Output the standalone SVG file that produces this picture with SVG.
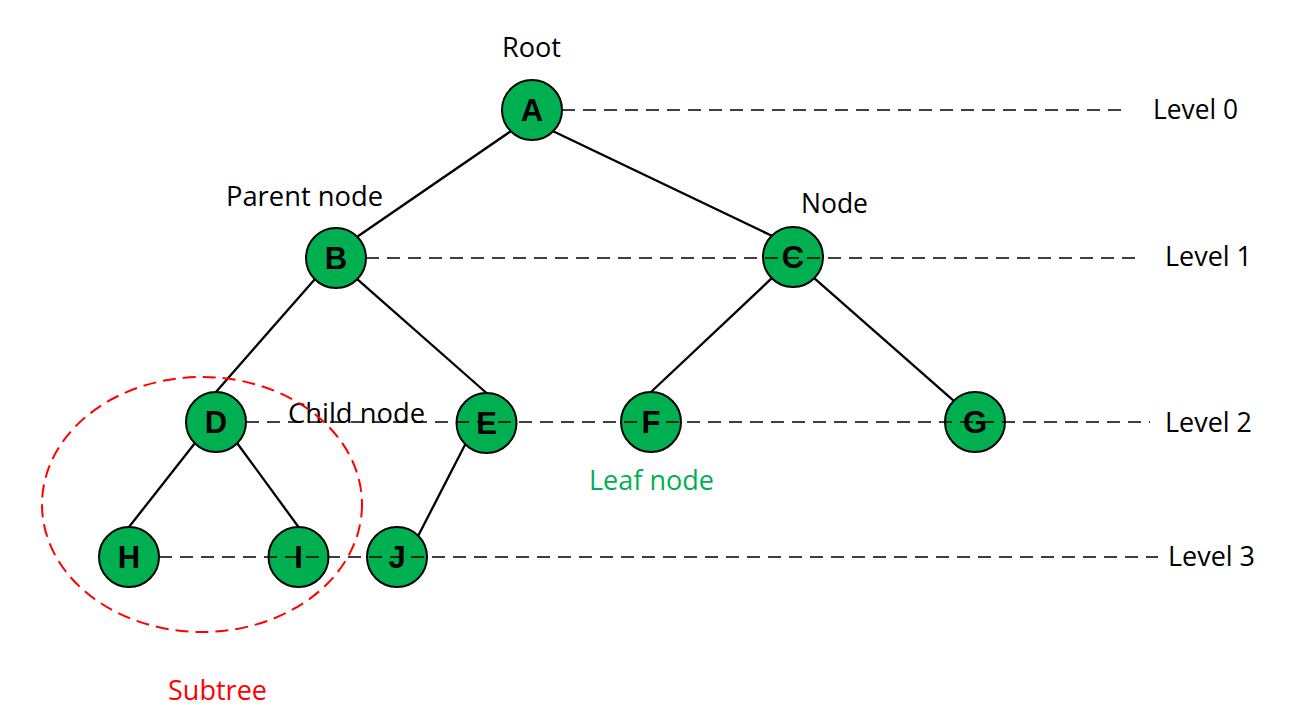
<svg xmlns="http://www.w3.org/2000/svg" width="1291" height="714" viewBox="0 0 1291 714">
<style>
.edge{stroke:#000;stroke-width:2.3;fill:none}
.lvl{stroke:#000;stroke-width:1.4;stroke-dasharray:13 8;fill:none}
.node circle{fill:#00B050;stroke:#000;stroke-width:2}
.node text{font-family:"Liberation Sans",Arial,sans-serif;font-weight:bold;font-size:31px;fill:#000;text-anchor:middle}
.lbl{font-family:"Open Sans","Liberation Sans",sans-serif;font-size:27px;fill:#000}
</style>
<rect width="1291" height="714" fill="#fff"/>
<g id="connectors">
<line class="edge" x1="510.8" y1="131.2" x2="357.2" y2="236.8"/>
<line class="edge" x1="553.2" y1="131.2" x2="771.8" y2="235.8"/>
<line class="edge" x1="314.8" y1="279.2" x2="216" y2="392"/>
<line class="edge" x1="357.2" y1="279.2" x2="486.5" y2="393"/>
<line class="edge" x1="771.8" y1="278.2" x2="651" y2="392"/>
<line class="edge" x1="814.2" y1="278.2" x2="953.8" y2="400.8"/>
<line class="edge" x1="194.8" y1="443.2" x2="129" y2="527"/>
<line class="edge" x1="237.2" y1="443.2" x2="298.5" y2="527"/>
<line class="edge" x1="465.3" y1="444.2" x2="418.2" y2="535.8"/>
</g>
<g id="nA" class="node"><circle cx="532" cy="110" r="30"/><text x="532" y="121">A</text></g>
<g id="nB" class="node"><circle cx="336" cy="258" r="30"/><text x="336" y="269">B</text></g>
<g id="nC" class="node"><circle cx="793" cy="257" r="30"/><text x="793" y="268">C</text></g>
<g id="nD" class="node"><circle cx="216" cy="422" r="30"/><text x="216" y="433">D</text></g>
<g id="nE" class="node"><circle cx="486.5" cy="423" r="30"/><text x="486.5" y="434">E</text></g>
<g id="nF" class="node"><circle cx="651" cy="422" r="30"/><text x="651" y="433">F</text></g>
<g id="nG" class="node"><circle cx="975" cy="422" r="30"/><text x="975" y="433">G</text></g>
<g id="nH" class="node"><circle cx="129" cy="557" r="30"/><text x="129" y="568">H</text></g>
<g id="nI" class="node"><circle cx="298.5" cy="557" r="30"/><text x="298.5" y="568">I</text></g>
<g id="nJ" class="node"><circle cx="397" cy="557" r="30"/><text x="397" y="568">J</text></g>
<g id="levels">
<line class="lvl" x1="562" y1="110" x2="1128" y2="110"/>
<line class="lvl" x1="366" y1="258" x2="1140" y2="258"/>
<line class="lvl" x1="246" y1="422" x2="1150" y2="422"/>
<line class="lvl" x1="159" y1="557" x2="1158" y2="557"/>
</g>
<g id="labels">
<text class="lbl" x="502" y="57" textLength="59" lengthAdjust="spacingAndGlyphs">Root</text>
<text class="lbl" x="226" y="206" textLength="157" lengthAdjust="spacingAndGlyphs">Parent node</text>
<text class="lbl" x="801" y="213" textLength="67" lengthAdjust="spacingAndGlyphs">Node</text>
<text class="lbl" x="288" y="423" textLength="137" lengthAdjust="spacingAndGlyphs">Child node</text>
<text class="lbl" x="589" y="490" textLength="125" lengthAdjust="spacingAndGlyphs" style="fill:#00B050">Leaf node</text>
<text class="lbl" x="168" y="700" textLength="99" lengthAdjust="spacingAndGlyphs" style="fill:#FF0000">Subtree</text>
<text class="lbl" x="1153" y="119" textLength="85" lengthAdjust="spacingAndGlyphs">Level 0</text>
<text class="lbl" x="1165" y="266" textLength="87" lengthAdjust="spacingAndGlyphs">Level 1</text>
<text class="lbl" x="1165" y="432" textLength="87" lengthAdjust="spacingAndGlyphs">Level 2</text>
<text class="lbl" x="1168" y="566" textLength="87" lengthAdjust="spacingAndGlyphs">Level 3</text>
</g>
<g id="subtree">
<ellipse cx="202" cy="504.5" rx="160" ry="127.5" fill="none" stroke="#FF0000" stroke-width="2" stroke-dasharray="13 7"/>
</g>
</svg>
